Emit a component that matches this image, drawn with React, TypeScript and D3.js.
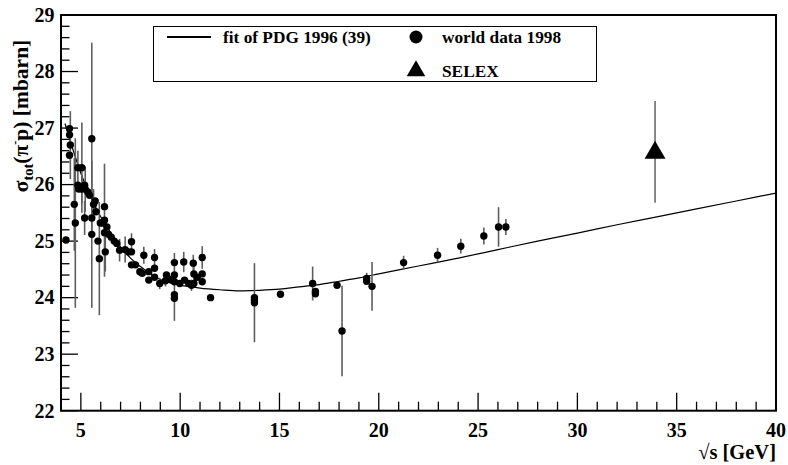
import React from "react";
import * as d3 from "d3";

// world data 1998: sqrt(s) [GeV], sigma [mbarn], error
const worldX = [4.25,4.43,4.43,4.47,4.43,4.67,4.72,4.85,5.05,4.85,4.89,5.05,5.19,5.22,5.35,5.44,5.19,5.55,5.55,5.55,5.64,5.72,5.76,5.86,5.93,5.98,6.09,6.19,6.19,6.19,6.23,6.31,6.39,6.53,6.68,6.81,6.95,7.23,7.40,7.55,7.55,7.55,7.75,7.97,8.09,8.17,8.42,8.42,8.71,8.71,8.71,8.97,9.26,9.31,9.51,9.71,9.71,9.71,9.71,9.71,9.98,10.18,10.22,10.43,10.57,10.69,10.66,10.69,10.86,11.11,11.11,11.11,11.53,13.74,13.74,13.74,15.05,16.67,16.81,16.81,17.90,18.15,19.39,19.39,19.66,21.25,22.96,24.13,25.29,26.03,26.40];
const worldY = [25.02,26.99,26.88,26.70,26.52,25.65,25.32,26.30,26.30,25.99,25.92,25.92,25.99,25.92,25.87,25.81,25.41,26.81,25.41,25.12,25.65,25.71,25.52,25.00,24.69,25.32,25.32,25.61,25.37,25.15,24.81,25.25,25.12,25.07,25.00,24.96,24.84,24.85,24.81,24.99,24.81,24.58,24.58,24.46,24.43,24.75,24.31,24.46,24.71,24.52,24.36,24.25,24.30,24.40,24.32,24.62,24.40,24.28,24.05,23.99,24.25,24.63,24.31,24.25,24.22,24.25,24.61,24.42,24.36,24.71,24.42,24.28,24.00,24.00,23.96,23.91,24.06,24.25,24.11,24.07,24.22,23.41,24.34,24.29,24.20,24.62,24.75,24.91,25.09,25.25,25.25];
const worldErr = [0,0,0,0.6,0,0.82,1.5,0.3,0.8,0,0,0.25,0,0.4,0,0,0.3,1.7,0,1.3,0.27,0,0,0,1.0,0,0,0,1.0,0,0.35,0,0,0,0,0,0.2,0.23,0,0.15,0,0,0,0,0,0.15,0,0,0.15,0,0,0.1,0.1,0,0,0.17,0,0,0,0.4,0,0.18,0,0,0.1,0,0.15,0.15,0,0.2,0,0,0,0,0,0.7,0,0.3,0,0,0,0.8,0.1,0,0.43,0.12,0.13,0.13,0.15,0.35,0.14];

// SELEX
const selexX = [33.91];
const selexY = [26.58];
const selexErr = [0.9];

// fit of PDG 1996 (39)
const fitX = [4.2,4.6,5.0,5.5,6.0,6.5,7.0,7.5,8.0,8.5,9.0,9.5,10,11,12,13,14,15,16,17,18,19,20,22,24,26,28,30,32,34,36,38,40];
const fitY = [27.08,26.62,26.2,25.78,25.43,25.15,24.9,24.7,24.55,24.42,24.32,24.26,24.22,24.17,24.14,24.12,24.13,24.15,24.19,24.23,24.29,24.35,24.42,24.56,24.70,24.85,25.0,25.14,25.29,25.43,25.57,25.71,25.85];

const xMajor = [5,10,15,20,25,30,35,40];
const yMajor = [22,23,24,25,26,27,28,29];

const W = 788, H = 465;
const L = 61, R = 776, T = 15, B = 410.7;
const FONT = "'Liberation Serif','Times New Roman',serif";

export default function App() {
  const x = d3.scaleLinear().domain([4, 40]).range([L, R]);
  const y = d3.scaleLinear().domain([22, 29]).range([B, T]);
  const xMinor = d3.range(4, 41, 1);
  const yMinor = d3.range(22, 29.001, 0.2);
  const line = d3.line<number>().x((_, i) => x(fitX[i])).y((d) => y(d)).curve(d3.curveMonotoneX);
  const tri = d3.symbol().type(d3.symbolTriangle);

  return (
    <div style={{ position: "fixed", left: 0, top: 0 }}>
      <svg width={W} height={H} style={{ display: "block", background: "#fff" }} fontFamily={FONT}>
        <rect x={0} y={0} width={W} height={H} fill="#fff" />
        {/* ticks */}
        {xMinor.map((v) => (
          <line key={"xm" + v} x1={x(v)} x2={x(v)} y1={B} y2={B - (v % 5 === 0 ? 18 : 9)} stroke="#000" strokeWidth={1.3} />
        ))}
        {yMinor.map((v, i) => (
          <line key={"ym" + i} x1={L} x2={L + (i % 5 === 0 ? 17 : 8.5)} y1={y(v)} y2={y(v)} stroke="#000" strokeWidth={1.3} />
        ))}
        {xMajor.map((v) => (
          <text key={"xl" + v} x={x(v)} y={437} textAnchor="middle" fontSize={20} fontWeight="bold">{v}</text>
        ))}
        {yMajor.map((v) => (
          <text key={"yl" + v} x={54.5} y={y(v) + 6.8} textAnchor="end" fontSize={20} fontWeight="bold">{v}</text>
        ))}
        {/* fit */}
        <path d={line(fitY) || ""} fill="none" stroke="#000" strokeWidth={1.2} />
        {/* error bars */}
        {worldX.map((v, i) =>
          worldErr[i] > 0 ? (
            <line key={"we" + i} x1={x(v)} x2={x(v)} y1={y(worldY[i] - worldErr[i])} y2={y(worldY[i] + worldErr[i])} stroke="#5e5e5e" strokeWidth={1.6} />
          ) : null
        )}
        {selexX.map((v, i) => (
          <line key={"se" + i} x1={x(v)} x2={x(v)} y1={y(selexY[i] - selexErr[i])} y2={y(selexY[i] + selexErr[i])} stroke="#6a6a6a" strokeWidth={1.6} />
        ))}
        {worldX.map((v, i) => (
          <circle key={"w" + i} cx={x(v)} cy={y(worldY[i])} r={3.7} fill="#000" />
        ))}
        {selexX.map((v, i) => (
          <path key={"s" + i} d={tri.size(190)() || ""} transform={`translate(${x(v)},${y(selexY[i]) + 1})`} fill="#000" />
        ))}
        {/* frame */}
        <rect x={L} y={T} width={R - L} height={B - T} fill="none" stroke="#000" strokeWidth={2} />
        {/* legend */}
        <rect x={153.5} y={26.5} width={443} height={55} fill="#fff" stroke="#000" strokeWidth={1} />
        <line x1={167} x2={211} y1={37} y2={37} stroke="#000" strokeWidth={2.2} />
        <text x={223} y={42.5} fontSize={17.3} fontWeight="bold">fit of PDG 1996 (39)</text>
        <circle cx={416} cy={37} r={6.5} fill="#000" />
        <text x={442} y={42.5} fontSize={17.3} fontWeight="bold">world data 1998</text>
        <path d={tri.size(150)() || ""} transform="translate(416,71)" fill="#000" />
        <text x={442} y={77} fontSize={17.3} fontWeight="bold">SELEX</text>
        {/* axis titles */}
        <text x={776} y={459} textAnchor="end" fontSize={20.5} fontWeight="bold">√s [GeV]</text>
        <text transform="translate(28,116) rotate(-90)" textAnchor="middle" fontSize={21.5} fontWeight="bold">
          σ<tspan fontSize={14.5} dy={5}>tot</tspan>
          <tspan dy={-5}>(π</tspan>
          <tspan fontSize={12} dy={-9}>-</tspan>
          <tspan dy={9}>p) [mbarn]</tspan>
        </text>
      </svg>
    </div>
  );
}
